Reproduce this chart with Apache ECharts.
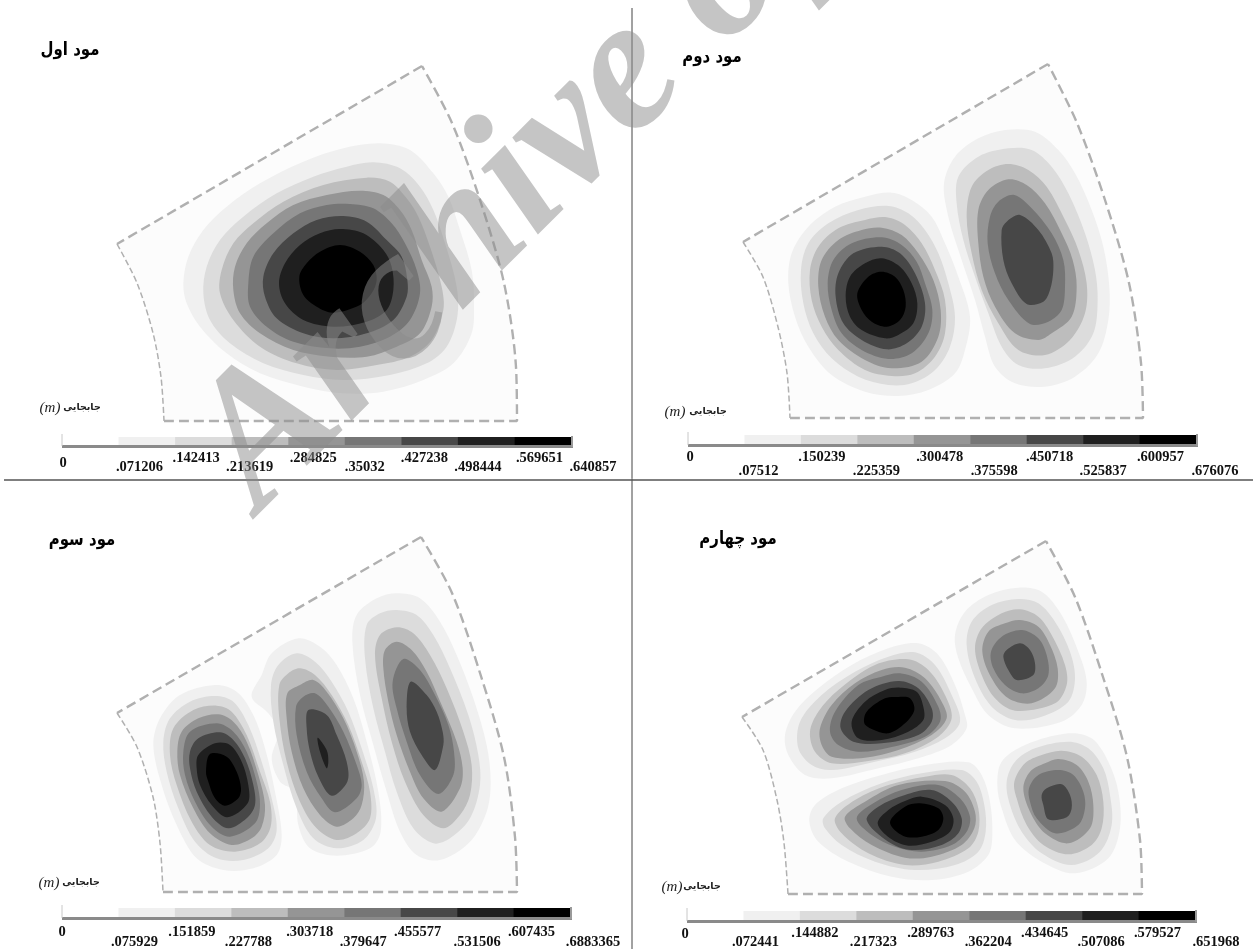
<!DOCTYPE html>
<html>
<head>
<meta charset="utf-8">
<title>مودها</title>
<style>
html, body { margin: 0; padding: 0; background: #fff; }
#main { width: 1253px; height: 949px; }
</style>
<script src="https://cdn.jsdelivr.net/npm/echarts@6/dist/echarts.min.js"></script>
</head>
<body>
<div id="main"></div>
<script>
// contour bands, lowest to highest
var bandColors = ['#ffffff', '#f0f0f0', '#dcdcdc', '#bdbdbd', '#959595', '#767676', '#474747', '#1f1f1f', '#000000'];

var mode1Ticks = ['0', '.071206', '.142413', '.213619', '.284825', '.35032', '.427238', '.498444', '.569651', '.640857'];
var mode2Ticks = ['0', '.07512', '.150239', '.225359', '.300478', '.375598', '.450718', '.525837', '.600957', '.676076'];
var mode3Ticks = ['0', '.075929', '.151859', '.227788', '.303718', '.379647', '.455577', '.531506', '.607435', '.6883365'];
var mode4Ticks = ['0', '.072441', '.144882', '.217323', '.289763', '.362204', '.434645', '.507086', '.579527', '.651968'];

// plate outline of each mode: straight top edge, left arc, bottom + right arc
var mode1Top = [[422, 66], [117, 244]];
var mode1Left = [[117, 244], [137, 283], [153, 333], [161, 377], [164, 421]];
var mode1Rest = [[164, 421], [517, 421], [516, 367], [504, 283], [480, 200], [452, 123], [422, 66]];
var mode2Top = [[1048, 64], [743, 242]];
var mode2Left = [[743, 242], [763, 277], [778, 327], [787, 373], [790, 418]];
var mode2Rest = [[790, 418], [1143, 418], [1141, 363], [1129, 283], [1105, 200], [1077, 123], [1048, 64]];
var mode3Top = [[421, 537], [117, 713]];
var mode3Left = [[117, 713], [137, 747], [153, 797], [160, 843], [163, 892]];
var mode3Rest = [[163, 892], [517, 892], [515, 837], [504, 757], [480, 673], [452, 593], [421, 537]];
var mode4Top = [[1046, 541], [742, 717]];
var mode4Left = [[742, 717], [763, 750], [777, 800], [784, 843], [788, 894]];
var mode4Rest = [[788, 894], [1142, 894], [1140, 840], [1127, 757], [1103, 677], [1075, 597], [1046, 541]];

var mode1Peak = [
    [[630,40],[720,60],[790,130],[835,200],[870,300],[905,420],[912,520],[905,610],[850,700],[760,750],[640,785],[520,790],[400,770],[270,730],[170,670],[90,590],[50,520],[40,460],[55,380],[100,300],[170,230],[270,160],[400,95],[520,55]],
    [[610,97],[690,115],[750,170],[790,240],[825,340],[860,470],[862,560],[830,650],[770,700],[660,735],[520,750],[400,735],[280,700],[180,640],[120,570],[100,490],[110,410],[150,330],[220,260],[320,190],[430,140],[530,110]],
    [[590,143],[660,155],[710,205],[745,260],[780,350],[815,470],[820,540],[785,630],[720,680],[620,705],[500,720],[380,700],[270,650],[190,570],[150,490],[155,420],[190,340],[250,280],[340,215],[460,165]],
    [[570,182],[640,195],[690,240],[725,300],[755,390],[785,470],[785,530],[750,610],[680,650],[590,680],[480,680],[370,660],[270,610],[210,550],[190,480],[195,410],[230,340],[290,280],[370,225],[470,195]],
    [[540,222],[610,235],[665,280],[705,340],[740,420],[750,490],[720,570],[660,620],[570,650],[480,655],[370,635],[290,590],[240,530],[235,460],[250,380],[310,310],[390,250],[470,225]],
    [[520,258],[590,275],[650,330],[695,380],[712,450],[710,500],[670,570],[590,610],[490,625],[400,610],[320,565],[285,500],[280,440],[310,370],[370,310],[440,270]],
    [[510,297],[580,310],[640,360],[665,410],[670,480],[650,540],[590,575],[490,590],[400,570],[345,520],[327,460],[345,400],[390,345],[450,310]],
    [[510,345],[570,365],[610,405],[620,450],[605,490],[570,525],[490,548],[440,530],[400,495],[388,440],[410,400],[450,365]]
];

var mode2LeftPeak = [
    [[350,218],[410,240],[470,290],[510,370],[550,470],[585,590],[570,690],[540,760],[460,810],[370,828],[270,815],[170,765],[100,680],[60,590],[40,490],[50,400],[100,320],[180,260],[270,230]],
    [[340,258],[400,280],[450,330],[490,400],[520,490],[540,590],[525,680],[480,750],[410,790],[340,795],[250,770],[170,715],[115,640],[85,550],[78,450],[100,370],[160,310],[250,270]],
    [[335,292],[390,315],[440,370],[480,450],[510,540],[510,640],[480,710],[420,760],[350,768],[270,750],[190,690],[140,620],[110,540],[105,450],[130,380],[190,325],[270,300]],
    [[320,323],[380,345],[430,400],[475,480],[497,570],[490,650],[440,725],[350,745],[270,720],[190,660],[150,590],[130,500],[140,420],[190,360],[260,330]],
    [[320,352],[380,375],[425,425],[450,490],[472,570],[460,640],[410,700],[340,717],[260,690],[200,640],[170,570],[158,490],[175,420],[230,370]],
    [[320,380],[375,400],[420,460],[450,550],[440,620],[395,670],[335,688],[260,660],[205,610],[182,530],[190,460],[235,400]],
    [[320,415],[375,440],[410,490],[427,550],[415,610],[370,645],[330,655],[260,630],[225,590],[212,530],[225,470],[270,430]],
    [[320,455],[360,470],[385,510],[392,560],[375,600],[335,620],[290,605],[260,570],[247,520],[280,470]]
];
var mode2RightPeak = [
    [[690,30],[780,35],[850,90],[900,160],[950,270],[985,380],[1003,500],[1000,600],[970,700],[900,770],[810,800],[720,790],[660,740],[630,650],[600,540],[560,420],[520,290],[507,190],[540,110],[610,55]],
    [[700,85],[770,90],[830,140],[880,220],[930,340],[960,450],[968,540],[955,640],[900,710],[810,745],[730,735],[680,680],[640,580],[600,470],[565,360],[545,250],[550,170],[610,110]],
    [[700,132],[760,150],[815,200],[870,300],[910,390],[935,490],[930,580],[885,660],[810,705],[730,690],[670,610],[620,510],[590,400],[575,290],[590,200],[640,150]],
    [[700,178],[755,195],[810,250],[860,340],[893,420],[905,500],[890,590],[830,640],[790,660],[720,640],[660,560],[625,470],[610,370],[610,270],[640,210]],
    [[718,225],[770,265],[830,340],[865,420],[870,500],[860,570],[820,605],[765,612],[700,540],[660,460],[638,370],[645,290],[670,245]],
    [[735,285],[790,330],[830,400],[835,450],[825,510],[805,545],[755,552],[710,490],[685,420],[680,330],[695,305]]
];

var mode3LeftPeak = [
    [[225,300],[290,320],[340,390],[375,490],[405,620],[425,750],[410,810],[340,850],[250,855],[170,820],[110,720],[65,600],[40,480],[60,400],[120,330]],
    [[225,333],[280,350],[325,420],[365,530],[395,640],[410,735],[385,790],[310,825],[230,820],[165,770],[115,670],[80,560],[70,470],[90,400],[150,350]],
    [[230,362],[275,380],[320,450],[360,560],[390,650],[392,725],[360,775],[285,800],[210,780],[155,710],[110,600],[90,510],[100,430],[160,375]],
    [[235,388],[280,410],[320,470],[355,570],[375,660],[365,725],[335,760],[275,780],[210,745],[160,670],[120,570],[112,500],[125,440],[175,400]],
    [[230,415],[280,440],[320,500],[350,590],[360,660],[345,715],[270,755],[215,725],[165,650],[135,570],[130,500],[150,440]],
    [[240,442],[280,465],[315,520],[340,600],[345,660],[320,700],[265,730],[215,695],[170,620],[150,550],[150,500],[175,460]],
    [[225,475],[270,480],[305,530],[325,600],[323,655],[262,697],[215,660],[180,600],[170,550],[175,510]],
    [[210,507],[260,515],[290,560],[303,610],[295,640],[255,662],[225,640],[205,590],[198,560]]
];
var mode3MiddlePeak = [
    [[475,160],[540,185],[590,240],[640,340],[680,470],[715,620],[722,740],[690,790],[590,812],[510,790],[475,720],[465,620],[420,590],[395,520],[415,440],[385,385],[335,335],[365,270],[395,205]],
    [[470,205],[525,230],[575,290],[625,380],[665,490],[700,610],[708,700],[670,765],[590,790],[520,760],[470,670],[430,540],[400,410],[393,300],[415,240]],
    [[480,250],[525,270],[575,330],[625,420],[665,530],[690,620],[690,700],[650,745],[590,765],[530,730],[480,650],[440,530],[418,400],[418,300],[445,265]],
    [[520,285],[560,320],[610,400],[650,500],[672,590],[665,660],[640,700],[590,725],[540,690],[490,610],[455,500],[440,400],[442,325],[480,300]],
    [[525,325],[565,365],[610,440],[650,540],[665,600],[650,640],[585,682],[545,640],[500,560],[470,450],[468,365],[490,335]],
    [[505,375],[560,390],[590,450],[620,530],[622,590],[575,632],[535,575],[510,500],[500,430]],
    [[533,458],[560,495],[565,530],[560,550],[540,500]]
];
var mode3RightPeak = [
    [[770,25],[840,40],[900,110],[950,210],[1000,340],[1040,480],[1052,590],[1040,680],[990,770],[900,825],[830,810],[780,740],[740,620],[700,480],[660,330],[637,170],[650,90],[710,40]],
    [[770,75],[830,90],[880,150],[930,250],[985,390],[1015,510],[1020,600],[990,700],[930,760],[880,775],[820,730],[770,620],[735,500],[700,370],[675,220],[680,120],[720,85]],
    [[770,127],[820,145],[870,210],[920,310],[970,440],[995,540],[990,630],[960,690],[910,730],[850,690],[795,590],[755,470],[725,340],[705,210],[720,150]],
    [[770,170],[815,195],[860,260],[905,360],[950,470],[968,550],[960,610],[905,680],[850,640],[810,560],[770,450],[745,350],[730,250],[735,195]],
    [[790,222],[840,255],[885,330],[925,420],[942,500],[940,570],[895,627],[840,570],[800,470],[770,370],[758,290]],
    [[812,290],[860,330],[890,380],[908,440],[910,480],[885,555],[845,510],[810,440],[800,370]]
];

var mode4UpperLeftPeak = [
    [[430,205],[490,240],[540,330],[570,420],[575,460],[530,510],[430,550],[310,580],[170,610],[90,600],[40,540],[30,480],[60,410],[130,340],[230,270],[340,220]],
    [[420,232],[480,270],[530,360],[555,440],[510,490],[420,530],[300,560],[170,585],[110,570],[70,520],[75,440],[140,360],[240,290],[340,245]],
    [[400,253],[460,285],[510,360],[530,430],[490,485],[390,535],[280,558],[170,565],[120,530],[105,470],[130,410],[190,345],[300,270]],
    [[390,278],[450,310],[500,380],[515,430],[470,480],[370,525],[270,548],[170,545],[140,510],[135,460],[170,390],[240,325],[320,285]],
    [[375,295],[440,320],[490,395],[495,440],[450,485],[340,518],[250,530],[190,510],[165,470],[180,410],[250,330],[320,305]],
    [[370,318],[430,340],[470,400],[470,440],[430,480],[320,505],[235,500],[197,460],[210,410],[280,345]],
    [[375,338],[425,350],[445,395],[445,435],[400,470],[320,495],[250,490],[230,440],[270,380],[330,345]],
    [[370,366],[405,370],[418,405],[390,445],[340,475],[290,462],[268,445],[275,410],[330,370]]
];
var mode4LowerLeftPeak = [
    [[580,562],[620,600],[645,680],[652,780],[640,840],[580,890],[470,915],[350,905],[220,860],[130,800],[103,740],[120,690],[200,640],[320,600],[450,570]],
    [[560,585],[605,620],[628,690],[632,770],[610,830],[540,870],[420,885],[300,860],[200,810],[150,760],[145,730],[200,680],[320,625],[440,595]],
    [[530,600],[585,640],[610,700],[610,770],[580,820],[490,860],[390,870],[280,835],[200,775],[180,730],[240,675],[340,630],[450,605]],
    [[510,618],[570,650],[600,710],[598,760],[560,810],[470,845],[390,848],[290,810],[225,760],[210,725],[270,680],[370,630]],
    [[490,630],[555,670],[585,725],[575,770],[530,810],[440,830],[360,815],[290,780],[245,730],[295,685],[380,645]],
    [[470,645],[530,680],[560,730],[550,775],[500,810],[410,825],[340,800],[275,735],[310,695],[390,660]],
    [[440,665],[510,690],[535,730],[525,770],[470,800],[400,812],[345,790],[308,745],[340,705],[390,678]],
    [[435,685],[490,700],[505,730],[490,765],[440,785],[385,783],[345,742],[390,695]]
];
var mode4UpperRightPeak = [
    [[730,38],[800,50],[860,120],[910,230],[935,320],[920,390],[860,440],[720,460],[640,420],[590,340],[550,250],[540,180],[570,110],[640,60]],
    [[730,72],[790,85],[840,140],[885,230],[900,310],[880,380],[800,425],[720,435],[650,395],[600,310],[575,210],[590,140],[650,90]],
    [[735,103],[790,125],[830,180],[870,270],[875,330],[840,385],[720,407],[660,370],[620,300],[600,220],[620,160],[680,115]],
    [[735,135],[790,155],[825,210],[848,280],[840,340],[770,385],[700,370],[650,310],[622,230],[640,170],[690,145]],
    [[740,165],[790,190],[815,240],[820,300],[790,340],[740,355],[690,330],[655,280],[648,230],[680,185]],
    [[735,205],[765,225],[780,265],[775,300],[725,315],[700,285],[685,245],[695,225]]
];
var mode4LowerRightPeak = [
    [[880,475],[950,490],[1000,560],[1030,650],[1035,760],[1000,850],[900,895],[800,860],[720,795],[680,700],[667,630],[680,560],[750,510]],
    [[880,500],[940,520],[985,580],[1005,660],[1010,750],[975,830],[890,870],[800,835],[740,770],[705,690],[695,620],[720,560],[780,520]],
    [[860,527],[920,545],[965,600],[985,680],[980,760],[950,810],[880,838],[805,810],[755,750],[725,670],[718,620],[750,565],[800,540]],
    [[850,552],[905,570],[940,620],[955,690],[945,760],[880,805],[810,775],[765,710],[745,640],[765,590],[810,565]],
    [[850,585],[895,600],[925,650],[930,700],[910,750],[840,775],[785,730],[765,680],[762,640],[790,600]],
    [[860,628],[885,660],[890,700],[875,727],[820,733],[805,690],[800,660],[815,640]]
];

// layout of the four panels, in page pixels
var panels = [
    { left: 0, top: 0, width: 632, height: 480, cropX: 170, cropY: 130, edgeTop: mode1Top, edgeLeft: mode1Left, edgeRest: mode1Rest,
      peaks: [mode1Peak], ticks: mode1Ticks, title: 'مود اول', titleX: 70, titleY: 50,
      barLeft: 62, barRight: 571, barTop: 437, barBottom: 445, upper: 458, lower: 467, zero: 463,
      nudge: [1, 21, 21, 18, 25, 20, 23, 20, 25, 22], unitX: 50, unitY: 408, wordX: 82 },
    { left: 632, top: 0, width: 621, height: 480, cropX: 775, cropY: 120, edgeTop: mode2Top, edgeLeft: mode2Left, edgeRest: mode2Rest,
      peaks: [mode2LeftPeak, mode2RightPeak], ticks: mode2Ticks, title: 'مود دوم', titleX: 712, titleY: 57,
      barLeft: 688, barRight: 1196, barTop: 435, barBottom: 444, upper: 457, lower: 471, zero: 457,
      nudge: [2, 14, 21, 19, 26, 24, 23, 20, 21, 19], unitX: 675, unitY: 412, wordX: 708 },
    { left: 0, top: 480, width: 632, height: 469, cropX: 140, cropY: 585, edgeTop: mode3Top, edgeLeft: mode3Left, edgeRest: mode3Rest,
      peaks: [mode3LeftPeak, mode3MiddlePeak, mode3RightPeak], ticks: mode3Ticks, title: 'مود سوم', titleX: 82, titleY: 540,
      barLeft: 62, barRight: 570, barTop: 908, barBottom: 917, upper: 932, lower: 942, zero: 932,
      nudge: [0, 16, 17, 17, 22, 19, 17, 20, 18, 23], unitX: 49, unitY: 883, wordX: 81 },
    { left: 632, top: 480, width: 621, height: 469, cropX: 775, cropY: 575, edgeTop: mode4Top, edgeLeft: mode4Left, edgeRest: mode4Rest,
      peaks: [mode4UpperLeftPeak, mode4LowerLeftPeak, mode4UpperRightPeak, mode4LowerRightPeak], ticks: mode4Ticks, title: 'مود چهارم', titleX: 738, titleY: 539,
      barLeft: 687, barRight: 1195, barTop: 911, barBottom: 920, upper: 933, lower: 942, zero: 934,
      nudge: [-2, 12, 15, 17, 18, 19, 19, 19, 19, 21], unitX: 672, unitY: 887, wordX: 702 }
];

var myChart = echarts.init(document.getElementById('main'), null, { renderer: 'canvas' });

var grids = [], xAxes = [], yAxes = [], series = [], graphics = [];

panels.forEach(function (p, n) {
    var plotIndex = n * 2, barIndex = n * 2 + 1;

    grids.push({ left: p.left, top: p.top, width: p.width, height: p.height });
    xAxes.push({ type: 'value', gridIndex: plotIndex, min: p.left, max: p.left + p.width, show: false });
    yAxes.push({ type: 'value', gridIndex: plotIndex, min: p.top, max: p.top + p.height, inverse: true, show: false });

    grids.push({ left: p.barLeft, top: p.barTop, width: p.barRight - p.barLeft, height: p.barBottom - p.barTop });
    xAxes.push({ type: 'value', gridIndex: barIndex, min: 0, max: 9, show: false });
    yAxes.push({ type: 'value', gridIndex: barIndex, min: 0, max: 1, show: false });

    // plate fill
    var plate = p.edgeTop.concat(p.edgeLeft).concat(p.edgeRest);
    series.push({
        type: 'custom', xAxisIndex: plotIndex, yAxisIndex: plotIndex, coordinateSystem: 'cartesian2d', silent: true, z: 1,
        data: [0],
        renderItem: function (params, api) {
            return {
                type: 'polygon',
                shape: { points: plate.map(function (c) { return api.coord(c); }) },
                style: { fill: '#fcfcfc', stroke: null }
            };
        }
    });

    // contours band by band so overlapping peaks merge properly
    var rings = [];
    for (var band = 0; band < 8; band++) {
        p.peaks.forEach(function (peak) {
            if (peak[band]) rings.push({ band: band + 1, points: peak[band] });
        });
    }
    series.push({
        type: 'custom', xAxisIndex: plotIndex, yAxisIndex: plotIndex, coordinateSystem: 'cartesian2d', silent: true, z: 2,
        data: rings.map(function (r, i) { return i; }),
        renderItem: function (params, api) {
            var r = rings[params.dataIndex];
            return {
                type: 'polygon',
                shape: {
                    points: r.points.map(function (c) { return api.coord([p.cropX + c[0] / 3, p.cropY + c[1] / 3]); }),
                    smooth: 0.33
                },
                style: { fill: bandColors[r.band], stroke: null }
            };
        }
    });

    // dashed outline
    [[p.edgeTop, 2.4, [10, 5]], [p.edgeLeft, 1.5, [6, 3]], [p.edgeRest, 2.4, [10, 5]]].forEach(function (e) {
        series.push({
            type: 'line', xAxisIndex: plotIndex, yAxisIndex: plotIndex, data: e[0], symbol: 'none', silent: true, z: 3,
            smooth: e[0].length > 2 ? 0.3 : false, animation: false,
            lineStyle: { color: '#b0b0b0', width: e[1], type: e[2] }
        });
    });

    // colour bar bands
    series.push({
        type: 'custom', xAxisIndex: barIndex, yAxisIndex: barIndex, coordinateSystem: 'cartesian2d', silent: true, z: 2,
        data: bandColors.map(function (c, i) { return i; }),
        renderItem: function (params, api) {
            var i = params.dataIndex;
            var a = api.coord([i, 1]), b = api.coord([i + 1, 0]);
            return {
                type: 'rect',
                shape: { x: a[0], y: a[1], width: b[0] - a[0] + 0.5, height: b[1] - a[1] },
                style: { fill: bandColors[i], stroke: null }
            };
        }
    });

    // colour bar frame
    graphics.push({ type: 'line', shape: { x1: p.barLeft, y1: p.barBottom + 1.5, x2: p.barRight + 2, y2: p.barBottom + 1.5 }, style: { stroke: '#8a8a8a', lineWidth: 3 }, z: 5 });
    graphics.push({ type: 'line', shape: { x1: p.barLeft, y1: p.barTop - 3, x2: p.barLeft, y2: p.barBottom + 1 }, style: { stroke: '#c8c8c8', lineWidth: 1 }, z: 5 });
    graphics.push({ type: 'line', shape: { x1: p.barRight + 1, y1: p.barTop - 1, x2: p.barRight + 1, y2: p.barBottom + 2 }, style: { stroke: '#9a9a9a', lineWidth: 2 }, z: 5 });

    // staggered tick labels
    series.push({
        type: 'custom', xAxisIndex: barIndex, yAxisIndex: barIndex, coordinateSystem: 'cartesian2d', silent: true, z: 4,
        data: p.ticks.map(function (t, i) { return i; }),
        renderItem: function (params, api) {
            var i = params.dataIndex;
            var pos = api.coord([i, 0]);
            var y = i === 0 ? p.zero : (i % 2 ? p.lower : p.upper);
            return {
                type: 'text',
                x: pos[0] + p.nudge[i],
                y: y,
                style: {
                    text: p.ticks[i], fill: '#111',
                    font: 'bold 14.5px "Liberation Serif"',
                    textAlign: 'center', textVerticalAlign: 'middle'
                }
            };
        }
    });

    graphics.push({ type: 'text', x: p.titleX, y: p.titleY, originX: 0, scaleX: 0.83, z: 6, style: { text: p.title, fill: '#000', font: 'bold 18px "DejaVu Sans"', textAlign: 'center', textVerticalAlign: 'middle' } });
    graphics.push({ type: 'text', x: p.wordX, y: p.unitY, z: 6, style: { text: 'جابجایی', fill: '#222', font: 'bold 9.5px "DejaVu Sans"', textAlign: 'center', textVerticalAlign: 'middle' } });
    graphics.push({ type: 'text', x: p.unitX, y: p.unitY, z: 6, style: { text: '(m)', fill: '#222', font: 'italic 15px "Liberation Serif"', textAlign: 'center', textVerticalAlign: 'middle' } });
});

// dividers between the panels
graphics.push({ type: 'line', shape: { x1: 632, y1: 8, x2: 632, y2: 949 }, style: { stroke: '#444', lineWidth: 1 }, z: 7 });
graphics.push({ type: 'line', shape: { x1: 4, y1: 480, x2: 1253, y2: 480 }, style: { stroke: '#555', lineWidth: 1.5 }, z: 7 });

// site watermark across the top left
graphics.push({
    type: 'text', x: 292, y: 545, rotation: Math.PI / 4, z: 20,
    style: { text: 'Archive of SID', fill: 'rgba(140,140,140,0.5)', font: 'italic bold 189px "Liberation Serif"', textAlign: 'left', textVerticalAlign: 'bottom' }
});

option = {
    animation: false,
    backgroundColor: '#ffffff',
    grid: grids,
    xAxis: xAxes,
    yAxis: yAxes,
    series: series,
    graphic: graphics
};

myChart.setOption(option);
</script>
</body>
</html>
